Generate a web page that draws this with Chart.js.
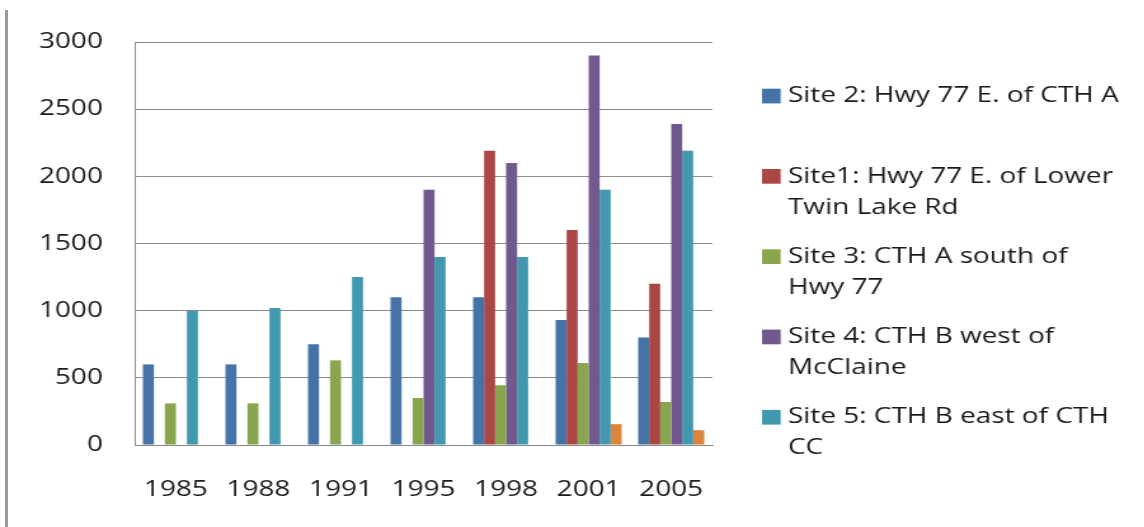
<!DOCTYPE html>
<html>
<head>
<meta charset="utf-8">
<script src="https://cdn.jsdelivr.net/npm/chart.js@4/dist/chart.umd.min.js"></script>
<style>
  html, body { margin: 0; padding: 0; background: #fff; overflow: hidden; }
  #frame { position: relative; width: 1144px; height: 527px; }
  #edge { position: absolute; left: 5px; top: 10px; width: 3px; height: 517px; background: #9c9c9c; }
  #wrap { position: absolute; left: 0; top: 0; width: 901px; height: 527px; transform: scaleX(1.27); transform-origin: 0 0; }
</style>
</head>
<body>
<div id="frame">
  <div id="edge"></div>
  <div id="wrap"><canvas id="siteChart" width="901" height="527"></canvas></div>
</div>
<script>
// years sampled
const years = ['1985', '1988', '1991', '1995', '1998', '2001', '2005'];

// values per site
const site2 = [600, 600, 750, 1100, 1100, 930, 800];
const site1 = [null, null, null, null, 2190, 1600, 1200];
const site3 = [310, 310, 630, 350, 445, 610, 320];
const site4 = [null, null, null, 1900, 2100, 2900, 2390];
const site5 = [1000, 1020, 1250, 1400, 1400, 1900, 2190];
const site6 = [null, null, null, null, null, 155, 110];

const yTicks = [0, 500, 1000, 1500, 2000, 2500, 3000];

// legend text, already broken into lines like the original
const legendLines = [
    ['Site 2: Hwy 77 E. of CTH A'],
    ['Site1: Hwy 77 E. of Lower', 'Twin Lake Rd'],
    ['Site 3: CTH A south of', 'Hwy 77'],
    ['Site 4: CTH B west of', 'McClaine'],
    ['Site 5: CTH B east of CTH', 'CC']
];

const colors = ['#4572A7', '#AA4643', '#89A54E', '#71588F', '#4198AF', '#DB843D'];
const FONT = '"Open Sans", "Liberation Sans", sans-serif';

// side legend drawn by hand because entries wrap onto two lines
const sideLegend = {
    id: 'sideLegend',
    afterDraw(chart) {
        const ctx = chart.ctx;
        ctx.save();
        ctx.font = '22px ' + FONT;
        ctx.textBaseline = 'middle';
        ctx.textAlign = 'left';
        legendLines.forEach(function(lines, i) {
            const y = 96 + i * 80.3;
            ctx.fillStyle = colors[i];
            ctx.fillRect(600, y - 7.3, 14.7, 14.7);
            ctx.fillStyle = '#1a1a1a';
            lines.forEach(function(txt, j) {
                ctx.fillText(txt, 620.5, y + j * 31);
            });
        });
        ctx.restore();
    }
};

const datasets = [
    { label: 'Site 2: Hwy 77 E. of CTH A', data: site2 },
    { label: 'Site1: Hwy 77 E. of Lower Twin Lake Rd', data: site1 },
    { label: 'Site 3: CTH A south of Hwy 77', data: site3 },
    { label: 'Site 4: CTH B west of McClaine', data: site4 },
    { label: 'Site 5: CTH B east of CTH CC', data: site5 },
    { label: 'Site 6', data: site6 }
].map(function(d, i) {
    d.backgroundColor = colors[i];
    d.borderWidth = 0;
    d.categoryPercentage = 0.8;
    d.barPercentage = 1.0;
    return d;
});

const ctxSites = document.getElementById('siteChart').getContext('2d');
const siteChart = new Chart(ctxSites, {
    type: 'bar',
    data: { labels: years, datasets: datasets },
    plugins: [sideLegend],
    options: {
        responsive: false,
        animation: false,
        layout: { padding: { left: 0, top: 42, right: 340, bottom: 22 } },
        plugins: {
            legend: { display: false },
            tooltip: { enabled: false }
        },
        scales: {
            x: {
                grid: { display: false },
                border: { display: true, color: '#8c8c8c', width: 1 },
                ticks: { color: '#1a1a1a', padding: 24, font: { family: FONT, size: 22 }, maxRotation: 0 },
                afterFit: function(scale) { scale.height = 60; }
            },
            y: {
                min: 0,
                max: 3000,
                afterBuildTicks: function(scale) {
                    scale.ticks = yTicks.map(function(v) { return { value: v }; });
                },
                grid: { color: '#8c8c8c', lineWidth: 1, drawTicks: false },
                border: { display: true, color: '#8c8c8c', width: 1 },
                ticks: {
                    color: '#1a1a1a',
                    padding: 25,
                    font: { family: FONT, size: 22 },
                    callback: function(v) { return String(v); }
                },
                afterFit: function(scale) { scale.width = 106; }
            }
        }
    }
});
</script>
</body>
</html>
